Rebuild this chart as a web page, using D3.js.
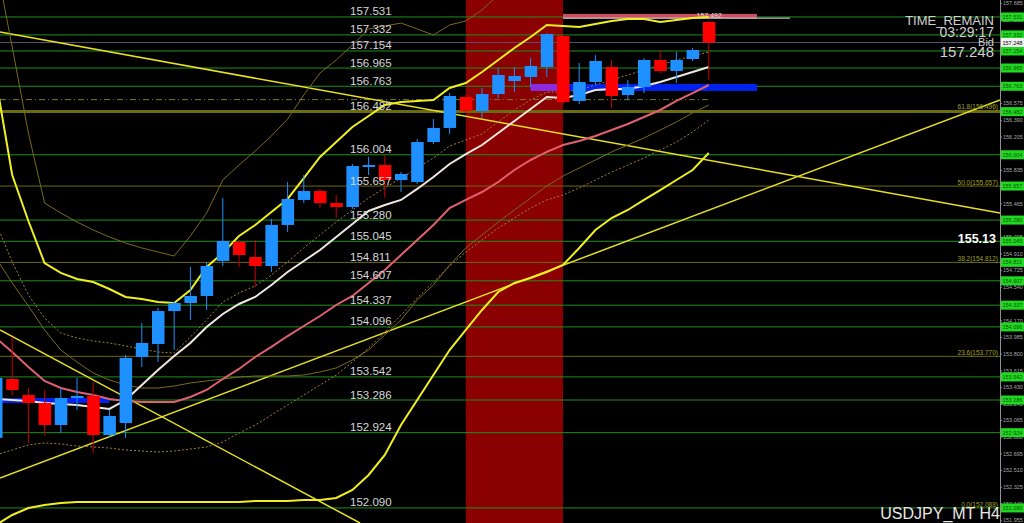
<!DOCTYPE html>
<html>
<head>
<meta charset="utf-8">
<script src="https://cdn.jsdelivr.net/npm/d3@7"></script>
<style>
  body { margin: 0; background: #000; }
  svg { display: block; font-family: "Liberation Sans", Arial, sans-serif; }
</style>
</head>
<body>
<svg id="chart" width="1024" height="523"></svg>
<script>
// ---- candles (USDJPY H4), oldest -> newest
var opens  = [152.866,153.519,153.342,153.253,153.009,153.308,153.331,152.898,153.031,153.763,153.907,154.272,154.361,154.439,154.827,155.037,154.871,154.771,155.226,155.503,155.602,155.469,155.425,155.868,155.890,155.724,155.702,156.145,156.301,156.644,156.489,156.677,156.821,156.866,156.976,157.320,156.600,156.810,156.976,156.666,156.755,157.054,156.932,157.065,157.475];
var highs  = [153.619,153.984,153.419,153.397,153.419,153.530,153.486,153.175,153.785,154.139,154.306,154.372,154.760,154.816,155.525,155.059,155.059,155.292,155.702,155.780,155.625,155.558,155.902,155.979,156.001,155.813,156.179,156.400,156.688,156.666,156.744,156.965,156.976,157.076,157.353,157.331,157.021,157.109,157.054,156.832,157.076,157.165,157.143,157.187,157.492];
var lows   = [152.788,153.342,152.810,152.898,152.920,153.175,152.699,152.876,152.865,153.652,153.707,153.840,154.173,154.284,154.771,154.760,154.538,154.705,155.148,155.469,155.414,155.303,155.403,155.780,155.525,155.591,155.680,156.123,156.234,156.467,156.411,156.633,156.699,156.755,156.866,156.566,156.566,156.788,156.522,156.611,156.688,156.910,156.799,157.043,156.832];
var closes = [153.530,153.397,153.253,153.009,153.308,153.331,152.898,153.109,153.752,153.918,154.272,154.361,154.439,154.771,155.048,154.893,154.771,155.226,155.514,155.602,155.469,155.425,155.879,155.890,155.724,155.791,156.145,156.301,156.655,156.489,156.677,156.888,156.877,156.988,157.342,156.589,156.810,157.043,156.655,156.755,157.054,156.932,157.054,157.165,157.248];

// ---- indicator lines (one value per candle)
var bandUpper = [156.832,155.780,155.270,154.804,154.694,154.627,154.594,154.516,154.428,154.406,154.372,154.361,154.505,154.760,154.915,155.104,155.226,155.370,155.514,155.746,155.979,156.145,156.312,156.433,156.555,156.589,156.600,156.611,156.744,156.799,156.921,157.054,157.187,157.309,157.442,157.431,157.420,157.453,157.486,157.508,157.508,157.475,157.497,157.520,157.531];
var bandLower = [151.901,152.012,152.089,152.123,152.145,152.156,152.156,152.156,152.156,152.156,152.156,152.156,152.156,152.156,152.156,152.156,152.167,152.167,152.167,152.178,152.178,152.200,152.289,152.455,152.677,153.009,153.286,153.563,153.840,154.062,154.284,154.483,154.583,154.638,154.705,154.782,154.971,155.170,155.303,155.392,155.503,155.613,155.724,155.835,156.023];
var maWhite = [153.297,153.286,153.275,153.253,153.242,153.231,153.209,153.187,153.286,153.452,153.619,153.774,153.918,154.095,154.239,154.350,154.428,154.561,154.705,154.827,154.948,155.093,155.237,155.381,155.447,155.503,155.625,155.757,155.902,156.012,156.112,156.245,156.378,156.511,156.644,156.633,156.666,156.722,156.733,156.733,156.766,156.810,156.866,156.921,156.976];
var maPink = [153.973,153.818,153.652,153.497,153.419,153.375,153.342,153.297,153.275,153.264,153.264,153.264,153.319,153.397,153.519,153.630,153.763,153.874,153.995,154.106,154.217,154.339,154.439,154.583,154.727,154.893,155.059,155.226,155.414,155.503,155.591,155.702,155.835,155.946,156.035,156.112,156.156,156.212,156.278,156.345,156.422,156.500,156.600,156.688,156.777];
var dotMid = [155.248,154.816,154.450,154.195,154.029,153.973,153.940,153.918,153.885,153.851,153.818,153.807,153.984,154.173,154.372,154.472,154.550,154.671,154.816,154.971,155.115,155.259,155.392,155.525,155.636,155.746,155.857,155.968,156.101,156.168,156.234,156.367,156.500,156.611,156.699,156.699,156.722,156.777,156.832,156.888,156.943,156.999,157.054,157.098,157.143];
var dotLower = [152.677,152.732,152.788,152.810,152.799,152.776,152.765,152.754,152.732,152.721,152.710,152.721,152.743,152.765,152.821,152.920,153.009,153.120,153.231,153.342,153.452,153.563,153.707,153.862,154.040,154.228,154.417,154.594,154.771,154.926,155.059,155.192,155.303,155.414,155.503,155.558,155.636,155.724,155.813,155.890,155.968,156.057,156.145,156.256,156.389];
var outerUpper = [158.129,157.198,156.245,155.469,155.358,155.259,155.170,155.093,155.026,154.971,154.926,154.882,155.104,155.358,155.724,155.890,156.046,156.212,156.400,156.666,156.910,157.054,157.220,157.398,157.431,157.464,157.398,157.331,157.442,157.486,157.608,157.774];
var outerLower = [154.860,154.583,154.328,154.062,153.840,153.707,153.585,153.508,153.452,153.419,153.419,153.441,153.475,153.497,153.519,153.541,153.552,153.552,153.552,153.563,153.597,153.641,153.730,153.840,154.007,154.173,154.395,154.561,154.782,154.971,155.115,155.259,155.392,155.525,155.658,155.768,155.857,155.946,156.035,156.112,156.190,156.278,156.367,156.467,156.555];

// ---- horizontal levels
var levels = [157.531,157.332,157.154,156.965,156.763,156.482,156.004,155.657,155.280,155.045,154.811,154.607,154.337,154.096,153.542,153.286,152.924,152.090];
var levelKind = ["g","g","g","g","g","o","g","o","g","g","o","g","g","g","g","g","g","g"];
var fibNames = ["61.8","50.0","38.2","23.6","0.0"];
var fibValues = [156.496,155.657,154.812,153.770,152.088];
var axisTicks = [157.685,157.500,156.575,156.390,156.205,155.835,155.465,155.095,154.910,154.725,154.540,154.170,153.985,153.800,153.615,153.430,153.245,153.065,152.880,152.695,152.510,152.325,152.140,151.955];
var bid = 157.248, dayHigh = 157.492;

var svg = d3.select("#chart");
var W = 1024, H = 523, plotRight = 1000;
var x = d3.scaleLinear().domain([0, 44]).range([-4, 708.8]);
var y = d3.scaleLinear().domain([151.923, 157.719]).range([H, 0]);

svg.append("rect").attr("width", W).attr("height", H).attr("fill", "#000");
var plot = svg.append("g");
plot.append("clipPath").attr("id", "clip").append("rect").attr("width", plotRight).attr("height", H);
var g = plot.append("g").attr("clip-path", "url(#clip)");

// session band
g.append("rect").attr("x", x(29)).attr("width", x(35) - x(29)).attr("y", 0).attr("height", H).attr("fill", "#8b0000");

// level lines
g.selectAll(".lvl").data(levels).join("line").attr("class", "lvl")
  .attr("x1", 0).attr("x2", plotRight)
  .attr("y1", d => y(d)).attr("y2", d => y(d))
  .attr("stroke", (d, i) => levelKind[i] == "o" ? "#6b6b10" : "#1f8f1f")
  .attr("stroke-width", (d, i) => i == 5 ? 3 : 1);
g.append("line").attr("x1", 0).attr("x2", plotRight).attr("y1", y(153.770)).attr("y2", y(153.770)).attr("stroke", "#6b6b10");
// bid line
g.append("line").attr("x1", 0).attr("x2", plotRight).attr("y1", y(bid)).attr("y2", y(bid)).attr("stroke", "#56506a");
// dash-dot line
g.append("line").attr("x1", 0).attr("x2", x(44)).attr("y1", y(156.615)).attr("y2", y(156.615))
  .attr("stroke", "#7a7a30").attr("stroke-dasharray", "6,3,1,3");

// zones
g.append("rect").attr("x", 0).attr("width", x(7)).attr("y", y(153.308)).attr("height", y(153.253) - y(153.308)).attr("fill", "#0022ee");
g.append("rect").attr("x", x(33)).attr("width", x(35) - x(33) - 6).attr("y", y(156.788)).attr("height", y(156.711) - y(156.788)).attr("fill", "#8a2be2");
g.append("rect").attr("x", x(35) - 6).attr("width", 757 - x(35) + 6).attr("y", y(156.788)).attr("height", y(156.711) - y(156.788)).attr("fill", "#0022ee");
g.append("rect").attr("x", x(35)).attr("width", 757 - x(35)).attr("y", y(157.565)).attr("height", y(157.515) - y(157.565)).attr("fill", "#c8505e");
g.append("line").attr("x1", x(35)).attr("x2", 790).attr("y1", y(157.518)).attr("y2", y(157.518)).attr("stroke", "#e0e0e0");
g.append("text").attr("x", x(43) + 4).attr("y", y(157.518)).attr("font-size", 7).attr("fill", "#ddd").text(dayHigh.toFixed(3));

// trend lines (price at two x positions)
var trends = [[0, 157.364, 1000, 155.358], [0, 152.421, 1000, 156.610], [0, 154.062, 360, 151.923]];
g.selectAll(".tr").data(trends).join("line").attr("class", "tr")
  .attr("x1", d => d[0]).attr("y1", d => y(d[1])).attr("x2", d => d[2]).attr("y2", d => y(d[3]))
  .attr("stroke", "#e8e020").attr("stroke-width", 1.5);

// indicator lines
var line = d3.line().x((d, i) => x(i)).y(d => y(d));
function drawLine(vals, color, w, dash) {
  g.append("path").datum(vals).attr("d", line).attr("fill", "none")
    .attr("stroke", color).attr("stroke-width", w).attr("stroke-dasharray", dash || null);
}
drawLine(outerUpper, "#7a6a20", 1);
drawLine(outerLower, "#7a6a20", 1);
drawLine(dotLower, "#a08040", 1, "2,2");
drawLine(dotMid, "#a08040", 1, "2,2");
drawLine(bandUpper, "#f0f020", 2);
drawLine(bandLower, "#f0f020", 2);
drawLine(maPink, "#e06070", 2);
drawLine(maWhite, "#f0e8e0", 2);

// candles
var idx = d3.range(opens.length);
g.selectAll(".wick").data(idx).join("line").attr("class", "wick")
  .attr("x1", i => x(i)).attr("x2", i => x(i))
  .attr("y1", i => y(highs[i])).attr("y2", i => y(lows[i]))
  .attr("stroke", i => closes[i] >= opens[i] ? "#1e90ff" : "#cc0000");
g.selectAll(".body").data(idx).join("rect").attr("class", "body")
  .attr("x", i => x(i) - 6).attr("width", 12.5)
  .attr("y", i => y(Math.max(opens[i], closes[i])))
  .attr("height", i => Math.max(1.5, Math.abs(y(opens[i]) - y(closes[i]))))
  .attr("fill", i => closes[i] >= opens[i] ? "#1e90ff" : "#ff0000");

// level labels in chart
g.selectAll(".lvlt").data(levels).join("text").attr("class", "lvlt")
  .attr("x", 350).attr("y", d => y(d) - 1.5)
  .attr("font-size", 11.5).attr("fill", "#d8d8d8").text(d => d.toFixed(3));

// fib labels
g.selectAll(".fibt").data(fibValues).join("text").attr("class", "fibt")
  .attr("x", 998).attr("y", d => y(d) - 1).attr("text-anchor", "end")
  .attr("font-size", 6.5).attr("fill", "#a0a020").text((d, i) => fibNames[i] + "(" + d.toFixed(3) + ")");

// right axis
svg.append("line").attr("x1", plotRight + 0.5).attr("x2", plotRight + 0.5).attr("y1", 0).attr("y2", H).attr("stroke", "#909090");
var ax = svg.append("g").attr("transform", "translate(" + plotRight + ",0)")
  .call(d3.axisRight(y).tickValues(axisTicks).tickSize(2).tickFormat(d3.format(".3f")));
ax.select(".domain").remove();
ax.selectAll("line").attr("stroke", "#909090");
ax.selectAll("text").attr("fill", "#a8a8a8").attr("font-size", 5.5).attr("x", 3);

var tags = svg.append("g");
tags.selectAll("rect").data(levels).join("rect")
  .attr("x", plotRight + 1).attr("y", d => y(d) - 4.5).attr("width", 23).attr("height", 9).attr("fill", "#20d820");
tags.selectAll("text").data(levels).join("text")
  .attr("x", plotRight + 2.5).attr("y", d => y(d) + 2).attr("font-size", 5.5).attr("fill", "#0a500a").text(d => d.toFixed(3));
svg.append("rect").attr("x", plotRight + 1).attr("y", y(bid) - 4.5).attr("width", 23).attr("height", 9).attr("fill", "#f0f0f0");
svg.append("text").attr("x", plotRight + 2.5).attr("y", y(bid) + 2).attr("font-size", 5.5).attr("fill", "#000").text(bid.toFixed(3));

// info text
var info = svg.append("g").attr("fill", "#d0d0d0").attr("text-anchor", "end");
info.append("text").attr("x", 994).attr("y", 25).attr("font-size", 13).text("TIME_REMAIN");
info.append("text").attr("x", 994).attr("y", 37).attr("font-size", 14).text("03:29:17");
info.append("text").attr("x", 994).attr("y", 46).attr("font-size", 11).text("Bid");
info.append("text").attr("x", 994).attr("y", 57).attr("font-size", 15).text(bid.toFixed(3));
svg.append("text").attr("x", 996).attr("y", 243).attr("text-anchor", "end").attr("font-size", 12.5)
  .attr("font-weight", "bold").attr("fill", "#fff").text("155.13");
svg.append("text").attr("x", 1000).attr("y", 519).attr("text-anchor", "end").attr("font-size", 16)
  .attr("fill", "#e8e8e8").text("USDJPY_MT H4");
</script>
</body>
</html>
